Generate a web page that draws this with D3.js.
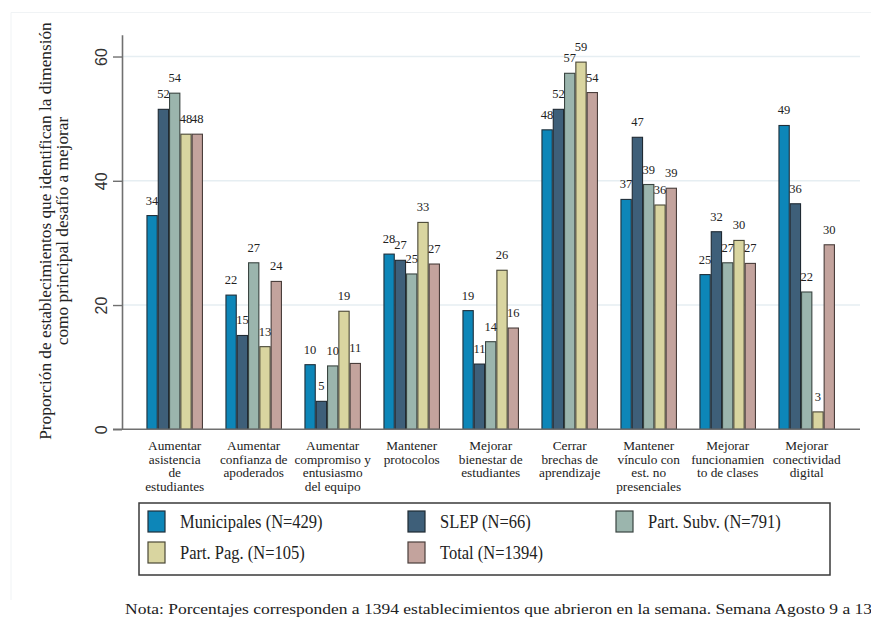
<!DOCTYPE html>
<html><head><meta charset="utf-8">
<script src="https://cdn.jsdelivr.net/npm/d3@7"></script>
<style>body{margin:0;background:#fff}svg{display:block}</style>
</head><body>
<svg id="c" width="871" height="639"></svg>
<script>
const categories = [
  ["Aumentar","asistencia","de","estudiantes"],
  ["Aumentar","confianza de","apoderados"],
  ["Aumentar","compromiso y","entusiasmo","del equipo"],
  ["Mantener","protocolos"],
  ["Mejorar","bienestar de","estudiantes"],
  ["Cerrar","brechas de","aprendizaje"],
  ["Mantener","vínculo con","est. no","presenciales"],
  ["Mejorar","funcionamien","to de clases"],
  ["Mejorar","conectividad","digital"]
];
const seriesNames = ["Municipales (N=429)","SLEP (N=66)","Part. Subv. (N=791)","Part. Pag. (N=105)","Total (N=1394)"];
const municipales = [34.4, 21.6, 10.4, 28.2, 19.1, 48.2, 37.0, 24.9, 48.9];
const slep        = [51.5, 15.1, 4.5, 27.2, 10.5, 51.5, 47.0, 31.8, 36.3];
const partSubv    = [54.1, 26.8, 10.2, 25.0, 14.1, 57.3, 39.4, 26.8, 22.1];
const partPag     = [47.5, 13.3, 19.0, 33.3, 25.6, 59.1, 36.1, 30.4, 2.8];
const total       = [47.5, 23.8, 10.6, 26.6, 16.3, 54.2, 38.8, 26.7, 29.7];
const yTicks = [0, 20, 40, 60];
const yTitle = ["Proporción de establecimientos que identifican la dimensión","como principal desafío a mejorar"];
const note = "Nota: Porcentajes corresponden a 1394 establecimientos que abrieron en la semana. Semana Agosto 9 a 13";

const colors = ["#0d86b8","#3e5f79","#9bb5ad","#d9d5a0","#c3a39d"];
const strokes = ["#1f2f3a","#1f2a33","#3a4541","#4a4836","#4a3e3b"];
const series = [municipales, slep, partSubv, partPag, total];

const svg = d3.select("#c");
const serif = "'Liberation Serif','Times New Roman',serif";
const sans = "'Liberation Sans',Arial,sans-serif";

// faint outer frame (top and left edges)
svg.append("path").attr("d","M11,600V12.5H871")
  .attr("fill","none").attr("stroke","#f0f3f5").attr("stroke-width",1);

const keys = categories.map((c,i)=>"c"+i);
const x0 = d3.scaleBand().domain(keys).range([135.2, 846.2]).paddingInner(0.285).paddingOuter(0.1425);
const x1 = d3.scaleBand().domain(d3.range(series.length)).range([0, x0.bandwidth()]);
const y = d3.scaleLinear().domain([0, 63.5]).range([429.3, 429.3 - 63.5*6.213]);

// gridlines
svg.append("g").selectAll("line").data(yTicks.filter(t=>t>0)).join("line")
  .attr("x1",122).attr("x2",860).attr("y1",d=>y(d)).attr("y2",d=>y(d))
  .attr("stroke","#e6eef2").attr("stroke-width",1.6);

// bars
const groups = svg.append("g").selectAll("g").data(keys).join("g")
  .attr("transform",k=>`translate(${x0(k)},0)`);
groups.each(function(k,ci){
  const g = d3.select(this);
  const vals = series.map((s,si)=>({si, v:s[ci]}));
  g.selectAll("rect").data(vals).join("rect")
    .attr("x",d=>x1(d.si)+0.5).attr("width",x1.bandwidth()-1)
    .attr("y",d=>y(d.v)).attr("height",d=>y(0)-y(d.v))
    .attr("fill",d=>colors[d.si]).attr("stroke",d=>strokes[d.si]).attr("stroke-width",1.1);
  g.selectAll("text").data(vals).join("text")
    .attr("x",d=>x1(d.si)+x1.bandwidth()/2).attr("y",d=>y(d.v)-11)
    .attr("text-anchor","middle").attr("font-family",serif).attr("font-size",12.5)
    .attr("fill","#222").text(d=>Math.round(d.v));
});

// y axis
const yAxis = d3.axisLeft(y).tickValues(yTicks).tickSize(9).tickSizeOuter(0).tickFormat(d3.format("d"));
const ya = svg.append("g").attr("transform","translate(122,0)").call(yAxis);
ya.select(".domain").attr("stroke","#707070").attr("stroke-width",1.6);
ya.selectAll(".tick line").attr("stroke","#707070").attr("stroke-width",1.4);
ya.selectAll(".tick text").attr("font-family",sans).attr("font-size",16).attr("fill","#333")
  .attr("x",null).attr("dy",null)
  .attr("transform","translate(-15,0) rotate(-90)").attr("text-anchor","middle");

// x axis baseline
svg.append("line").attr("x1",113).attr("x2",860).attr("y1",y(0)).attr("y2",y(0))
  .attr("stroke","#707070").attr("stroke-width",1.6);

// x labels
const xl = svg.append("g").selectAll("text").data(categories).join("text")
  .attr("font-family",serif).attr("font-size",13.3).attr("fill","#222").attr("text-anchor","middle");
xl.each(function(lines,i){
  const t = d3.select(this);
  const cx = x0(keys[i]) + x0.bandwidth()/2;
  lines.forEach((ln,j)=>{
    t.append("tspan").attr("x",cx).attr("y",450 + j*13.7).text(ln);
  });
});

// y title
yTitle.forEach((ln,j)=>{
  svg.append("text").attr("font-family",serif).attr("font-size",17.3).attr("fill","#222")
    .attr("text-anchor","middle")
    .attr("transform",`translate(${51 + j*17},231) rotate(-90)`).text(ln);
});

// legend
svg.append("rect").attr("x",139).attr("y",503).attr("width",691).attr("height",72)
  .attr("fill","#fff").attr("stroke","#3a3a3a").attr("stroke-width",1.5);
const legPos = [[148,511],[408,511],[616,511],[148,542],[408,542]];
const lg = svg.append("g").selectAll("g").data(seriesNames).join("g")
  .attr("transform",(d,i)=>`translate(${legPos[i][0]},${legPos[i][1]})`);
lg.append("rect").attr("width",17).attr("height",21)
  .attr("fill",(d,i)=>colors[i]).attr("stroke",(d,i)=>strokes[i]).attr("stroke-width",1.2);
lg.append("text").attr("transform","translate(32,17) scale(1,1.2)")
  .attr("font-family",serif).attr("font-size",16.5).attr("fill","#222").text(d=>d);

// note
svg.append("text").attr("transform","translate(125,614) scale(1.13,1)")
  .attr("font-family",serif).attr("font-size",15.5)
  .attr("fill","#222").text(note);
</script>
</body></html>
